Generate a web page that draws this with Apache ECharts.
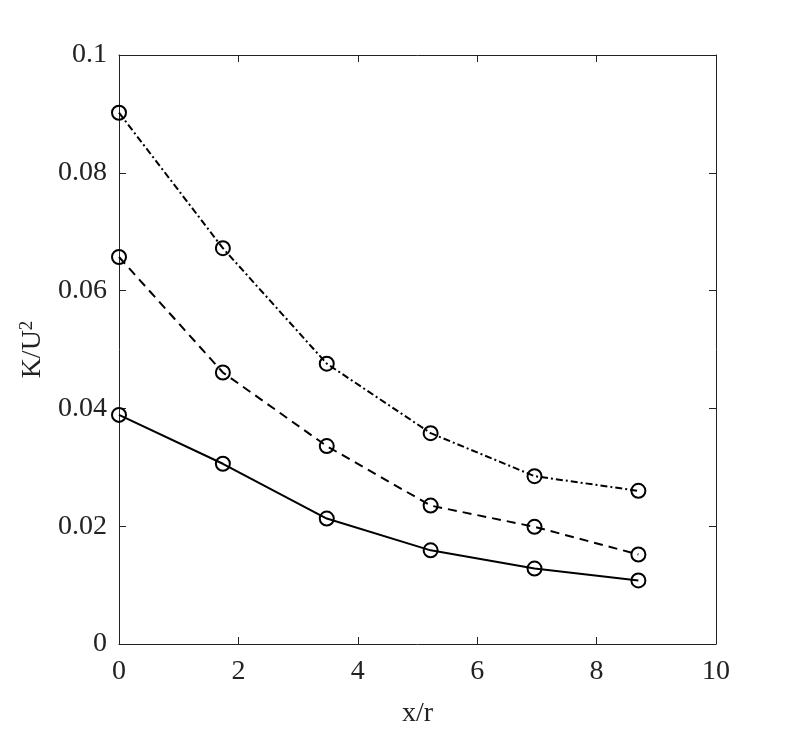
<!DOCTYPE html>
<html>
<head>
<meta charset="utf-8">
<script src="https://cdn.jsdelivr.net/npm/echarts@6/dist/echarts.min.js"></script>
<style>
  html, body { margin: 0; padding: 0; background: #fff; }
  #chart { width: 793px; height: 733px; }
</style>
</head>
<body>
<div id="chart"></div>
<script>
const xPos = [0, 1.74, 3.48, 5.22, 6.96, 8.7];
const solidVals = [0.0389, 0.0306, 0.0213, 0.0159, 0.0128, 0.0108];
const dashedVals = [0.0657, 0.0461, 0.0336, 0.0235, 0.0199, 0.0152];
const dashDotVals = [0.0902, 0.0672, 0.0476, 0.0358, 0.0285, 0.026];
const xTicks = [0, 2, 4, 6, 8, 10];
const yTicks = [0, 0.02, 0.04, 0.06, 0.08, 0.1];

const font = '"Times New Roman", "Liberation Serif", Times, serif';
const chart = echarts.init(document.getElementById('chart'));

function pairs(vals) {
    return xPos.map((x, i) => [x, vals[i]]);
}

function makeSeries(vals, dash) {
    return {
        type: 'line',
        data: pairs(vals),
        symbol: 'circle',
        symbolSize: 14,
        itemStyle: { color: 'rgba(0,0,0,0)', borderColor: '#000', borderWidth: 2 },
        lineStyle: { color: '#000', width: 2, type: dash },
        emphasis: { disabled: true },
        z: 3
    };
}

// MATLAB-style box: ticks pointing inward on all four sides
function tick() {
    return { show: true, inside: true, length: 7, lineStyle: { color: '#222', width: 1 } };
}
function line() {
    return { show: true, onZero: false, lineStyle: { color: '#222', width: 1 } };
}

chart.setOption({
    animation: false,
    grid: { left: 119, top: 55, width: 597, height: 592 },
    xAxis: [{
        type: 'value', min: 0, max: 10, interval: 2,
        name: 'x/r', nameLocation: 'middle', nameGap: 56,
        nameTextStyle: { fontFamily: font, fontSize: 28, color: '#222' },
        axisLine: line(), axisTick: tick(), splitLine: { show: false },
        axisLabel: { fontFamily: font, fontSize: 28, color: '#222', margin: 14,
            formatter: v => xTicks.includes(v) ? String(v) : '' }
    }, {
        type: 'value', min: 0, max: 10, interval: 2, position: 'top',
        axisLine: line(), axisTick: tick(), splitLine: { show: false },
        axisLabel: { show: false }
    }],
    yAxis: [{
        type: 'value', min: 0, max: 0.1, interval: 0.02,
        name: '{n|K/U}{s|2}', nameLocation: 'middle', nameGap: 68,
        nameTextStyle: {
            rich: {
                n: { fontFamily: font, fontSize: 28, color: '#222' },
                s: { fontFamily: font, fontSize: 19, color: '#222', verticalAlign: 'top', padding: [0, 0, 12, 0] }
            }
        },
        axisLine: line(), axisTick: tick(), splitLine: { show: false },
        axisLabel: { fontFamily: font, fontSize: 28, color: '#222', margin: 12,
            formatter: v => {
                const t = yTicks.find(k => Math.abs(k - v) < 1e-9);
                return t === undefined ? '' : String(parseFloat(t.toFixed(2)));
            } }
    }, {
        type: 'value', min: 0, max: 0.1, interval: 0.02, position: 'right',
        axisLine: line(), axisTick: tick(), splitLine: { show: false },
        axisLabel: { show: false }
    }],
    series: [
        makeSeries(solidVals, 'solid'),
        makeSeries(dashedVals, [9, 6]),
        makeSeries(dashDotVals, [7, 3, 2, 3])
    ]
});
</script>
</body>
</html>
